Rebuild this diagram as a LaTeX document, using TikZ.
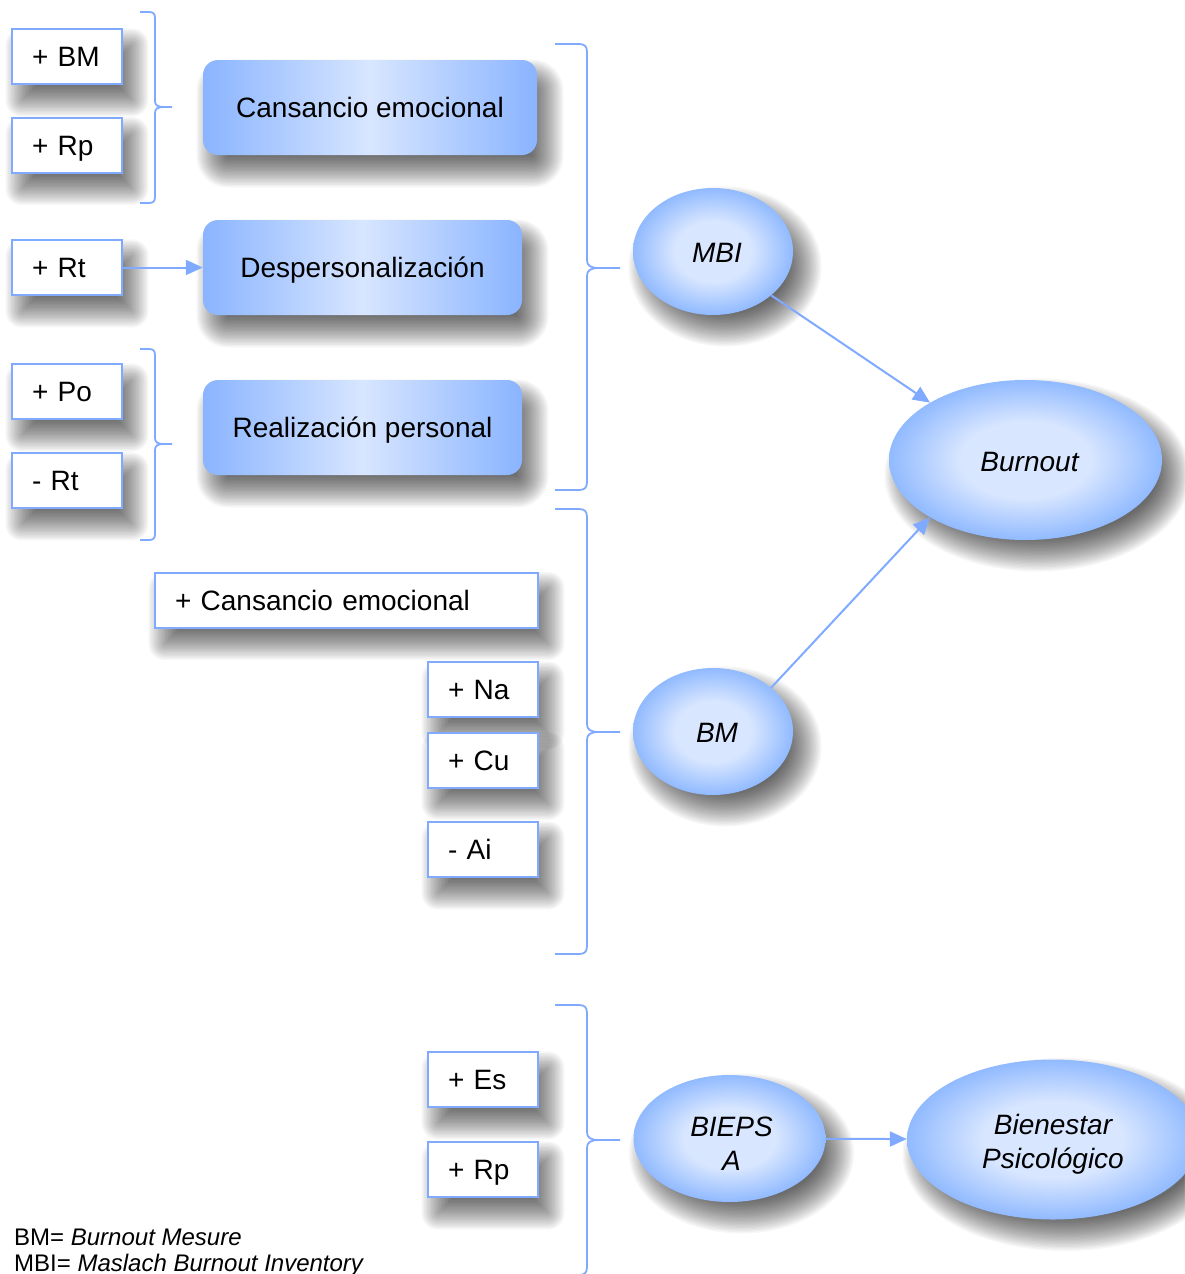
\documentclass[tikz,border=0pt]{standalone}
\usepackage{fontspec}
\setmainfont{Liberation Sans}
\usetikzlibrary{shapes.geometric,arrows.meta}
\definecolor{bline}{RGB}{128,170,255}
\definecolor{bedge}{RGB}{138,180,255}
\definecolor{eedge}{RGB}{145,186,255}
\definecolor{blight}{RGB}{216,230,255}
\pgfdeclareradialshading{ellshade}{\pgfpoint{0bp}{0bp}}{color(0bp)=(blight); color(12bp)=(blight); color(25bp)=(eedge); color(50bp)=(eedge)}
\newcommand\mybrace[7]{% xend, xvert, xtip, ytop, ytip, ybot, r
  \draw[brc] (#1,#4) -- (#2-#7,#4) .. controls (#2-#7*0.3,#4) and (#2,#4+#7*0.3) .. (#2,#4+#7)
    -- (#2,#5-#7) .. controls (#2,#5-#7*0.3) and (#2+#7*0.4,#5) .. (#2+#7*1.5,#5) -- (#3,#5)
    (#2+#7*1.5,#5) .. controls (#2+#7*0.4,#5) and (#2,#5+#7*0.3) .. (#2,#5+#7)
    -- (#2,#6-#7) .. controls (#2,#6-#7*0.3) and (#2-#7*0.3,#6) .. (#2-#7,#6) -- (#1,#6);}
% soft shadow of a box: cx, cy, w, h, corner radius
\newcommand\boxshadow[5]{%
  \foreach \i in {0,...,24}{%
    \pgfmathsetmacro\e{-17+1.4*\i}%
    \pgfmathsetmacro\rr{max(#5+(\e),0.01)}%
    \pgfmathsetmacro\xa{#1-#3/2-(\e)+10}%
    \pgfmathsetmacro\ya{#2-#4/2-(\e)+16}%
    \pgfmathsetmacro\xb{#1+#3/2+(\e)+10}%
    \pgfmathsetmacro\yb{#2+#4/2+(\e)+16}%
    \fill[black, opacity=0.03, rounded corners=\rr pt] (\xa,\ya) rectangle (\xb,\yb);
  }}
% soft shadow of an ellipse: cx, cy, rx, ry
\newcommand\ellshadow[4]{%
  \foreach \i in {0,...,24}{%
    \pgfmathsetmacro\e{-17+1.4*\i}%
    \pgfmathsetmacro\ra{#3+(\e)}%
    \pgfmathsetmacro\rb{#4+(\e)}%
    \fill[black, opacity=0.03] (#1+12,#2+15) ellipse [x radius=\ra, y radius=\rb];
  }}
\tikzset{
  sbox/.style={rectangle, draw=bline, line width=2pt, fill=white, minimum height=55pt,
    inner xsep=20pt, inner ysep=0pt, text width=#1, text height=20pt, text depth=0pt,
    align=left, font=\fontsize{28}{33}\selectfont},
  rbox/.style={rectangle, rounded corners=15pt, minimum height=95pt, minimum width=#1,
    left color=bedge, right color=bedge, middle color=blight,
    text height=20pt, text depth=0pt,
    font=\fontsize{28}{33}\selectfont},
  ell/.style={ellipse, inner sep=0pt, shading=ellshade},
  etxt/.style={inner sep=0pt, font=\fontsize{28}{34}\selectfont\itshape, align=center},
  conn/.style={draw=bline, line width=2pt, -{Triangle[length=17pt,width=15pt]}},
  brc/.style={draw=bline, line width=1.8pt},
  leg/.style={anchor=base west, inner sep=0pt, font=\fontsize{24}{27}\selectfont},
}
\begin{document}
\begin{tikzpicture}[x=1pt,y=-1pt]
\useasboundingbox (0,0) rectangle (1184,1274);
\fill[white] (0,0) rectangle (1184,1274);

% shadows
\boxshadow{67}{56.5}{110}{55}{0}
\boxshadow{67}{145}{110}{55}{0}
\boxshadow{67}{267.5}{110}{55}{0}
\boxshadow{67}{391.5}{110}{55}{0}
\boxshadow{67}{480.5}{110}{55}{0}
\boxshadow{370}{107.5}{334}{95}{15}
\boxshadow{362.5}{267.5}{319}{95}{15}
\boxshadow{362.5}{427.5}{319}{95}{15}
\boxshadow{346.5}{600}{383}{55}{0}
\boxshadow{483}{689.5}{110}{55}{0}
\boxshadow{483}{760}{110}{55}{0}
\boxshadow{483}{849.5}{110}{55}{0}
\boxshadow{483}{1079.5}{110}{55}{0}
\boxshadow{483}{1169.5}{110}{55}{0}
\ellshadow{713}{251.5}{80}{63.5}
\ellshadow{713}{731.5}{80}{63.5}
\ellshadow{1025.5}{460}{136.5}{80}
\ellshadow{729.5}{1138.5}{96}{63.5}
\ellshadow{1053}{1139.5}{146}{80}

% left small boxes
\node[sbox=70pt] (bm1) at (67,56.5) {+ BM};
\node[sbox=70pt] (rp1) at (67,145) {+ Rp};
\node[sbox=70pt] (rt1) at (67,267.5) {+ Rt};
\node[sbox=70pt] (po1) at (67,391.5) {+ Po};
\node[sbox=70pt] (rt2) at (67,480.5) {- Rt};

% gradient boxes
\node[rbox=334pt] (ce) at (370,107.5) {Cansancio emocional};
\node[rbox=319pt] (dp) at (362.5,267.5) {Despersonalización};
\node[rbox=319pt] (rpers) at (362.5,427.5) {Realización personal};

% right column boxes
\node[sbox=343pt] (ce2) at (346.5,600) {+ Cansancio emocional};
\node[sbox=70pt] (na) at (483,689.5) {+ Na};
\node[sbox=70pt] (cu) at (483,760) {+ Cu};
\node[sbox=70pt] (ai) at (483,849.5) {- Ai};
\node[sbox=70pt] (es) at (483,1079.5) {+ Es};
\node[sbox=70pt] (rp2) at (483,1169.5) {+ Rp};

% ellipses
\node[ell, minimum width=160pt, minimum height=127pt] (mbi) at (713,251.5) {};
\node[ell, minimum width=160pt, minimum height=127pt] (bm) at (713,731.5) {};
\node[ell, minimum width=273pt, minimum height=160pt] (burn) at (1025.5,460) {};
\node[ell, minimum width=192pt, minimum height=127pt] (bieps) at (729.5,1138.5) {};
\node[ell, minimum width=292pt, minimum height=160pt] (bien) at (1053,1139.5) {};
\node[etxt] (mbit) at ([xshift=4pt,yshift=-1.5pt]mbi.center) {MBI};
\node[etxt] (bmt) at ([xshift=4pt,yshift=-1.5pt]bm.center) {BM};
\node[etxt] (burnt) at ([xshift=4pt,yshift=-1.5pt]burn.center) {Burnout};
\node[etxt] (biepst) at ([xshift=2pt,yshift=-5pt]bieps.center) {BIEPS\\A};
\node[etxt] (bient) at ([xshift=0pt,yshift=-5pt]bien.center) {Bienestar\\Psicológico};

% braces
\mybrace{140}{155}{172}{12}{107}{203}{6}
\mybrace{140}{155}{172}{349}{444}{540}{6}
\mybrace{555}{587}{620}{44}{268}{490}{8}
\mybrace{555}{587}{620}{509}{732}{954}{8}
\mybrace{555}{587}{620}{1005}{1140}{1275}{8}

% connectors
\draw[conn] (rt1.east) -- (dp.west);
\draw[conn] (mbi.323) -- (burn.149);
\draw[conn] (bm.37) -- (burn.211);
\draw[conn] (bieps) -- (bien);

% legend
\node[leg] (leg1) at (14,1245) {BM= \textit{Burnout Mesure}};
\node[leg] (leg2) at (14,1271) {MBI= \textit{Maslach Burnout Inventory}};
\end{tikzpicture}
\end{document}
